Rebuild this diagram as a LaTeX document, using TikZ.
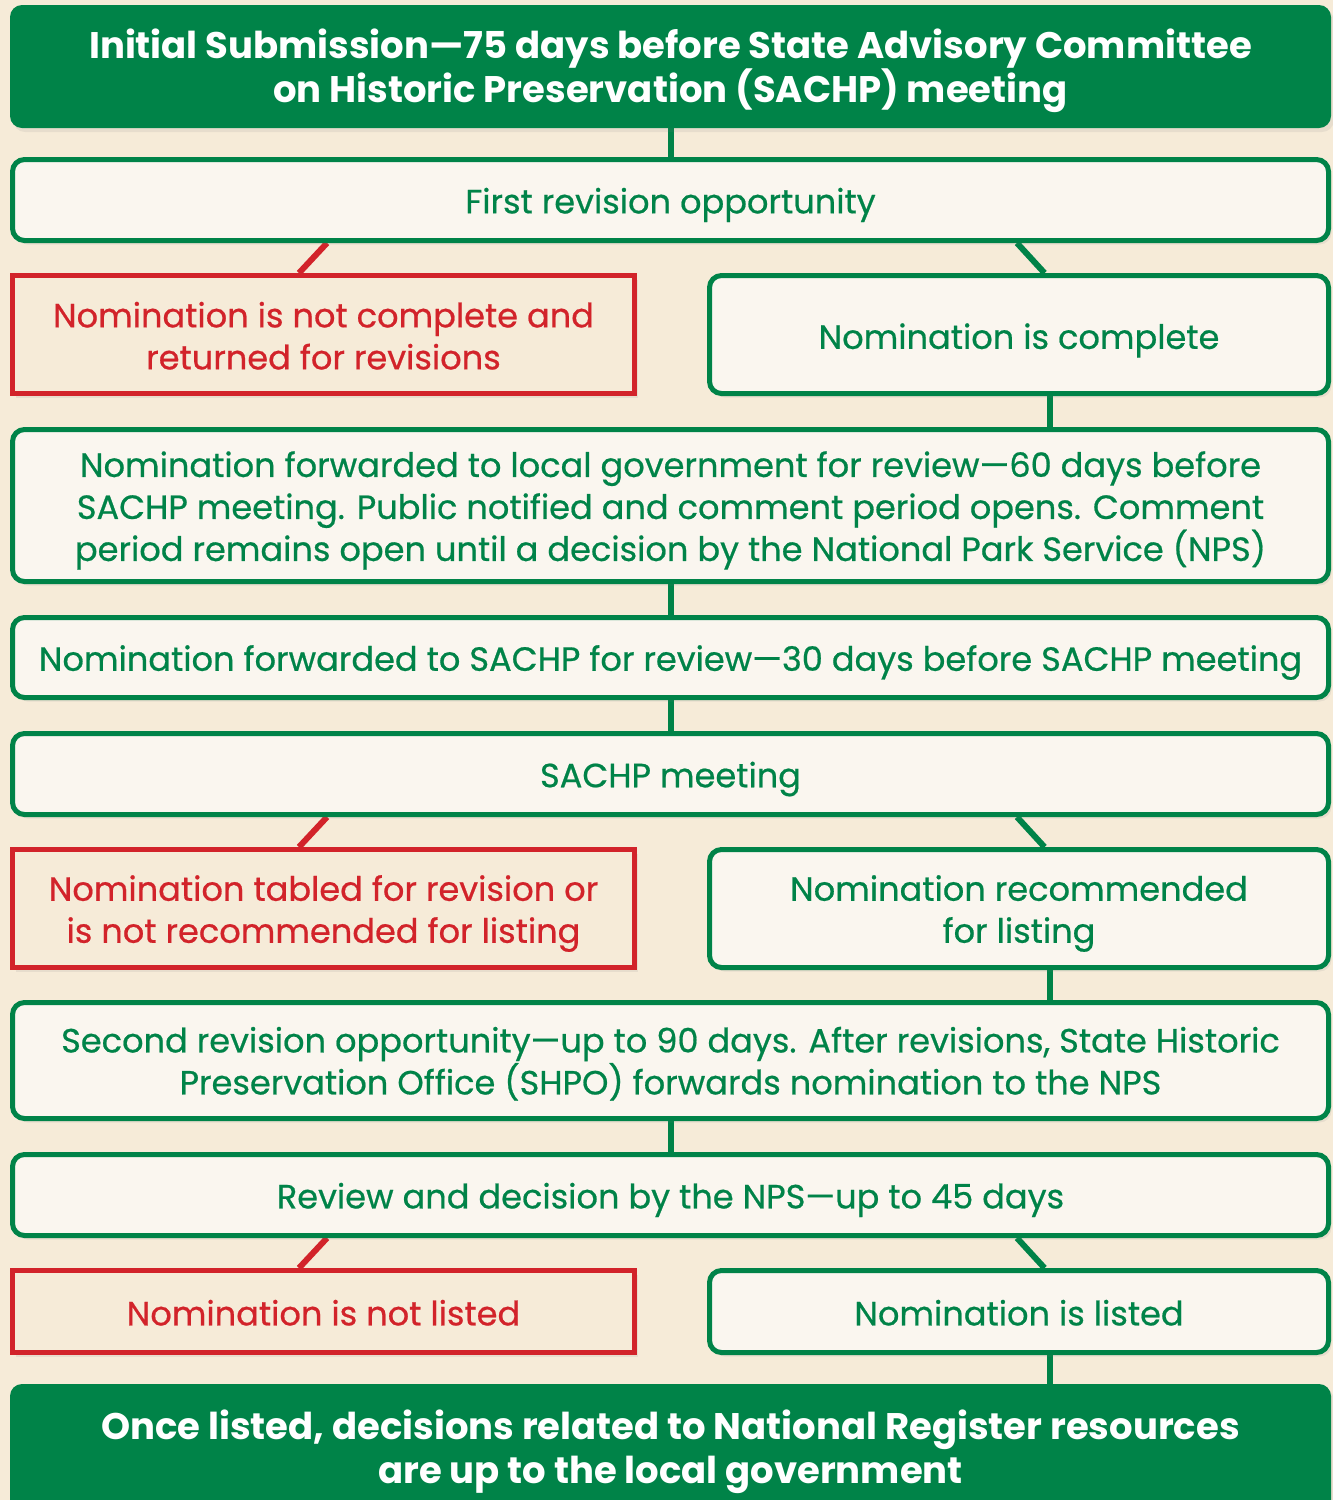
\documentclass[tikz,border=0pt]{standalone}
\usepackage{fontspec}
\setmainfont{Poppins}[FakeBold=0.6]
\newfontfamily\headfont{Poppins}
\usetikzlibrary{calc,shadows}
\pgfdeclarelayer{background}
\pgfsetlayers{background,main}
\definecolor{bg}{HTML}{F6EBD8}
\definecolor{grn}{HTML}{008348}
\definecolor{rd}{HTML}{D2232A}
\definecolor{boxfill}{HTML}{FAF6EF}
\begin{document}
\begin{tikzpicture}[x=0.5pt,y=-0.5pt,
  box/.style={draw=grn, line width=2.5pt, fill=boxfill, rounded corners=6pt, inner sep=0pt,
    drop shadow={opacity=0.12, shadow xshift=1.5pt, shadow yshift=-2pt}},
  redbox/.style={box, draw=rd, fill=bg, sharp corners},
  headbox/.style={draw=none, fill=grn, rounded corners=6pt, inner sep=0pt,
    drop shadow={opacity=0.12, shadow xshift=1.5pt, shadow yshift=-2pt}},
  tx/.style={align=center, inner sep=0pt, text=grn, font=\fontsize{16.8}{21}\selectfont,
    execute at end node={\rule[-4.4pt]{0pt}{0pt}}},
  rtx/.style={tx, text=rd},
  htx/.style={align=center, inner sep=0pt, text=white, font=\headfont\bfseries\fontsize{18.5}{22}\selectfont,
    execute at end node={\rule[-4.8pt]{0pt}{0pt}}},
  gline/.style={draw=grn, line width=3pt},
  rline/.style={draw=rd, line width=3pt},
]
\useasboundingbox (0,0) rectangle (1333,1500);
\clip (0,0) rectangle (1333,1500);
\begin{pgfonlayer}{background}
\fill[bg] (0,0) rectangle (1333,1500);
\end{pgfonlayer}

% boxes
\node[headbox, minimum width=660.5pt, minimum height=61.5pt] (top) at (670.5,66.5) {};
\node[box, minimum width=658pt, minimum height=40.5pt] (first) at (670.5,200) {};
\node[redbox, minimum width=311pt, minimum height=59pt] (red1) at (323.5,334.5) {};
\node[box, minimum width=309.5pt, minimum height=59pt] (complete) at (1019,334.5) {};
\node[box, minimum width=658pt, minimum height=76pt] (local) at (670.5,505.5) {};
\node[box, minimum width=658pt, minimum height=40pt] (review) at (670.5,657.5) {};
\node[box, minimum width=658pt, minimum height=40.5pt] (meeting) at (670.5,774) {};
\node[redbox, minimum width=311pt, minimum height=59pt] (red2) at (323.5,908.5) {};
\node[box, minimum width=309.5pt, minimum height=59pt] (recommended) at (1019,908.5) {};
\node[box, minimum width=658pt, minimum height=58pt] (second) at (670.5,1060.5) {};
\node[box, minimum width=658pt, minimum height=40.5pt] (nps) at (670.5,1195) {};
\node[redbox, minimum width=311pt, minimum height=41pt] (red3) at (323.5,1311.5) {};
\node[box, minimum width=309.5pt, minimum height=41pt] (listed) at (1019,1311.5) {};
\node[headbox, minimum width=660.5pt, minimum height=64.5pt] (bottom) at (670.5,1448.5) {};

% texts
\node[htx] (topT) at ($(top.center)+(0,4)$)
  {Initial Submission—75 days before State Advisory Committee\\on Historic Preservation (SACHP) meeting};
\node[tx] (firstT) at ($(first.center)+(0,5)$) {First revision opportunity};
\node[rtx] (red1T) at ($(red1.center)+(0,5.5)$) {Nomination is not complete and\\returned for revisions};
\node[tx] (completeT) at ($(complete.center)+(0,6)$) {Nomination is complete};
\node[tx] (localT) at ($(local.center)+(0,5)$)
  {Nomination forwarded to local government for review—60 days before\\SACHP meeting. Public notified and comment period opens. Comment\\period remains open until a decision by the National Park Service (NPS)};
\node[tx] (reviewT) at ($(review.center)+(0,5)$)
  {Nomination forwarded to SACHP for review—30 days before SACHP meeting};
\node[tx] (meetingT) at ($(meeting.center)+(0,5)$) {SACHP meeting};
\node[rtx] (red2T) at ($(red2.center)+(0,5)$) {Nomination tabled for revision or\\is not recommended for listing};
\node[tx] (recommendedT) at ($(recommended.center)+(0,5)$) {Nomination recommended\\for listing};
\node[tx] (secondT) at ($(second.center)+(0,4.5)$)
  {Second revision opportunity—up to 90 days. After revisions, State Historic\\Preservation Office (SHPO) forwards nomination to the NPS};
\node[tx] (npsT) at ($(nps.center)+(0,5)$) {Review and decision by the NPS—up to 45 days};
\node[rtx] (red3T) at ($(red3.center)+(0,5.5)$) {Nomination is not listed};
\node[tx] (listedT) at ($(listed.center)+(0,5.5)$) {Nomination is listed};
\node[htx] (bottomT) at ($(bottom.center)+(0,3.5)$)
  {Once listed, decisions related to National Register resources\\are up to the local government};

% connectors
\begin{pgfonlayer}{background}
\draw[gline] (top.south) -- (first.north);
\draw[rline] ($(first.south west)+(317,0)$) -- ($(red1.north west)+(289,0)$);
\draw[gline] ($(first.south west)+(1007,0)$) -- ($(complete.north west)+(337.5,0)$);
\draw[gline] ($(complete.south west)+(343,0)$) -- ($(local.north west)+(1040,0)$);
\draw[gline] (local.south) -- (review.north);
\draw[gline] (review.south) -- (meeting.north);
\draw[rline] ($(meeting.south west)+(317,0)$) -- ($(red2.north west)+(289,0)$);
\draw[gline] ($(meeting.south west)+(1007,0)$) -- ($(recommended.north west)+(337.5,0)$);
\draw[gline] ($(recommended.south west)+(343,0)$) -- ($(second.north west)+(1040,0)$);
\draw[gline] (second.south) -- (nps.north);
\draw[rline] ($(nps.south west)+(317,0)$) -- ($(red3.north west)+(289,0)$);
\draw[gline] ($(nps.south west)+(1007,0)$) -- ($(listed.north west)+(337.5,0)$);
\draw[gline] ($(listed.south west)+(343,0)$) -- ($(bottom.north west)+(1040.4,0)$);
\end{pgfonlayer}
\end{tikzpicture}
\end{document}
